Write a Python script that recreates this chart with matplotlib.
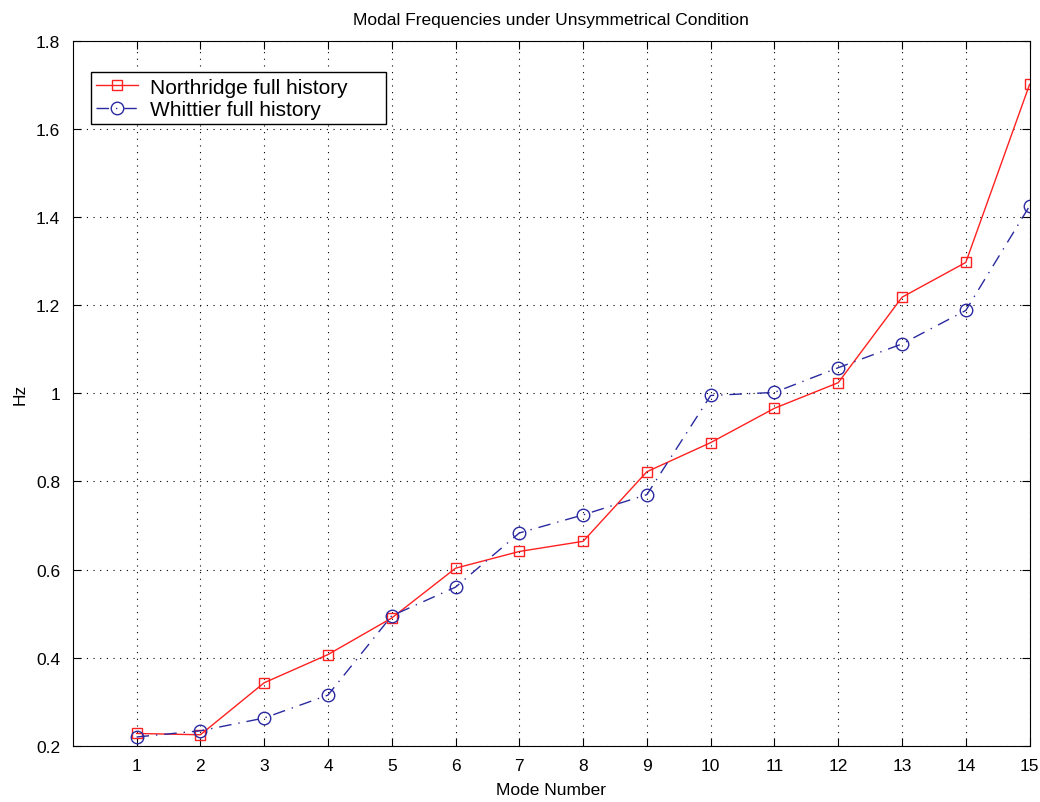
import matplotlib
matplotlib.use("Agg")
import matplotlib.pyplot as plt

plt.rcParams['font.family'] = ['Liberation Sans', 'DejaVu Sans']

# data
modes = list(range(1, 16))
northridge = [0.228, 0.225, 0.343, 0.407, 0.490, 0.603, 0.641, 0.664,
              0.822, 0.888, 0.966, 1.024, 1.218, 1.297, 1.701]
whittier = [0.220, 0.234, 0.263, 0.315, 0.495, 0.560, 0.683, 0.724,
            0.770, 0.995, 1.002, 1.058, 1.112, 1.188, 1.425]
yticks = [0.2, 0.4, 0.6, 0.8, 1, 1.2, 1.4, 1.6, 1.8]
ytick_labels = ['0.2', '0.4', '0.6', '0.8', '1', '1.2', '1.4', '1.6', '1.8']

fig = plt.figure(figsize=(10.4, 8.03), dpi=100)
ax = fig.add_axes([0.070, 0.070, 0.920, 0.878])

ax.plot(modes, northridge, color='#ff2020', lw=1.0, marker='s', ms=7.5,
        mfc='none', mec='#ff2020', mew=1.0, label='Northridge full history')
ax.plot(modes, whittier, color='#2a2aa0', lw=1.0, ls=(0, (9, 5, 1, 5)),
        marker='o', ms=9, mfc='none', mec='#2a2aa0', mew=1.0,
        label='Whittier full history')

ax.set_xlim(0, 15)
ax.set_ylim(0.2, 1.8)
ax.set_xticks(modes)
ax.set_yticks(yticks)
ax.set_yticklabels(ytick_labels)
ax.tick_params(direction='in', length=6, labelsize=12.5, top=True, right=True)
ax.tick_params(axis='x', pad=9)
ax.tick_params(axis='y', pad=9)
ax.grid(True, color='black', linestyle=(0, (1, 5)), linewidth=0.8)

ax.set_xlabel('Mode Number', fontsize=12.5, labelpad=6)
ax.set_ylabel('Hz', fontsize=12.5, labelpad=6)
ax.set_title('Modal Frequencies under Unsymmetrical Condition', fontsize=12.5, pad=12)

leg = ax.legend(loc='upper left', bbox_to_anchor=(0.0188, 0.955, 0.309, 0),
                mode='expand', fontsize=15,
                fancybox=False, framealpha=1, edgecolor='black',
                borderpad=0.25, handlelength=2.0, handletextpad=0.6,
                labelspacing=0.15, borderaxespad=0)
leg.get_frame().set_linewidth(1.0)

fig.savefig('out.png', dpi=100)
